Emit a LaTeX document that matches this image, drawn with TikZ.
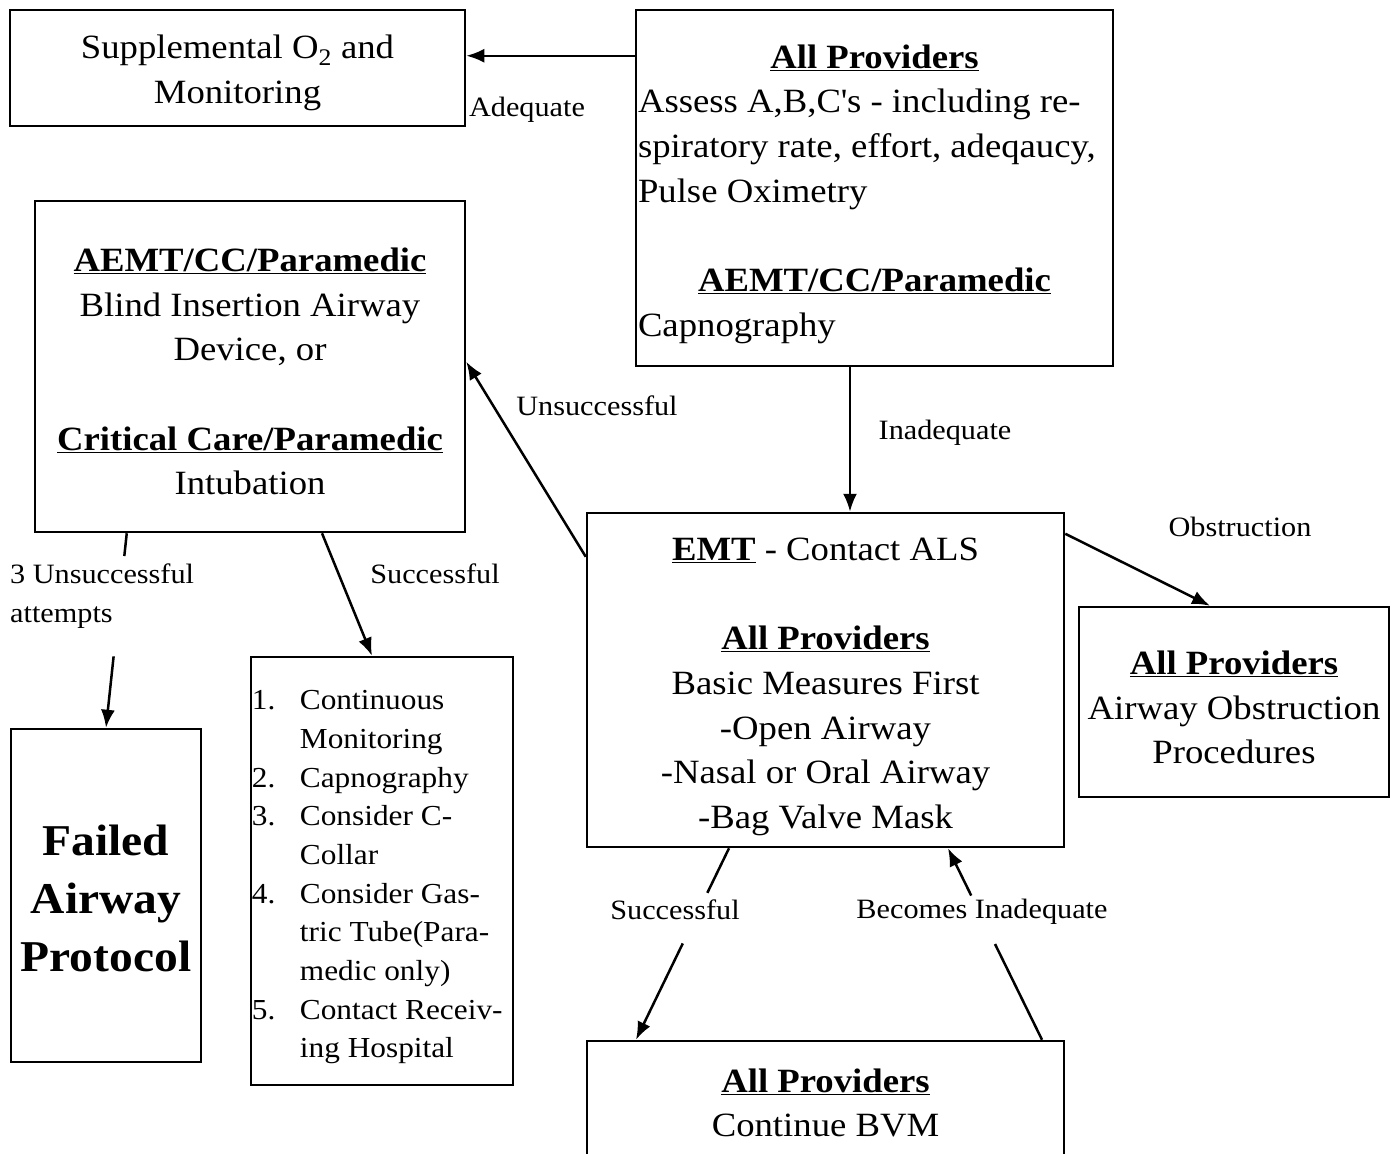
\documentclass[tikz,border=0pt]{standalone}
\usepackage{fontspec}
\setmainfont{Liberation Serif}[FakeStretch=1.08]
\usetikzlibrary{arrows.meta,calc}
\newcommand\mainfnt{\fontsize{34}{44.7}\selectfont}
\newcommand\lblfnt{\fontsize{28}{39}\selectfont}
\newcommand\listfnt{\fontsize{29}{38.7}\selectfont}
\newcommand\bigfnt{\fontsize{44}{58}\selectfont\bfseries}
\newcommand\hdr[1]{\textbf{\underline{#1}}}
\begin{document}
\begin{tikzpicture}[x=1pt,y=-1pt,
  box/.style={draw, line width=2.5pt, inner sep=0pt},
  txt/.style={inner sep=0pt, align=center, font=\mainfnt},
  lbl/.style={inner sep=0pt, font=\lblfnt},
  arr/.style={line width=2.5pt, -{Latex[length=18pt,width=14pt]}},
  ln/.style={line width=2.5pt}]
\useasboundingbox (0,0) rectangle (1395,1154);
\clip (0,0) rectangle (1395,1154);

% boxes
\node[box, minimum width=455pt, minimum height=116pt] (o2) at (237.5,68) {};
\node[txt] (o2t) at ([yshift=-5pt]o2.center) {Supplemental O\textsubscript{2} and\\Monitoring};

\node[box, minimum width=477pt, minimum height=356pt] (top) at (874.5,188) {};
\node[txt, text width=473pt, align=flush left] (topt) at ([yshift=-6pt]top.center)
  {\makebox[\linewidth]{\hdr{All Providers}}\\
   Assess A,B,C\textquotesingle s - including re-\\
   spiratory rate, effort, adeqaucy,\\
   Pulse Oximetry\\[44.7pt]
   \makebox[\linewidth]{\hdr{AEMT/CC/Paramedic}}\\
   Capnography};

\node[box, minimum width=430pt, minimum height=331pt] (aemt) at (250,366.5) {};
\node[txt] (aemtt) at ([yshift=-5pt]aemt.center)
  {\hdr{AEMT/CC/Paramedic}\\Blind Insertion Airway\\Device, or\\[44.7pt]
   \hdr{Critical Care/Paramedic}\\Intubation};

\node[box, minimum width=477pt, minimum height=334pt] (emt) at (825.5,680) {};
\node[txt] (emtt) at ([yshift=-7pt]emt.center)
  {\hdr{EMT} - Contact ALS\\[44.7pt]\hdr{All Providers}\\Basic Measures First\\
   -Open Airway\\-Nasal or Oral Airway\\-Bag Valve Mask};

\node[box, minimum width=310pt, minimum height=190pt] (obs) at (1234,702) {};
\node[txt] (obst) at ([yshift=-5.5pt]obs.center)
  {\hdr{All Providers}\\Airway Obstruction\\Procedures};

\node[box, minimum width=190pt, minimum height=333pt] (fail) at (106,895.5) {};
\node[txt, font=\bigfnt] (failt) at ([yshift=-3pt]fail.center) {Failed\\Airway\\Protocol};

\node[box, minimum width=262pt, minimum height=428pt] (list) at (382,871) {};
\node[inner sep=0pt, font=\listfnt, anchor=west] (listt) at ([xshift=2pt,yshift=-5pt]list.west)
  {\begin{tabular}{@{}p{48pt}@{}l@{}}
   1. & Continuous\\
      & Monitoring\\
   2. & Capnography\\
   3. & Consider C-\\
      & Collar\\
   4. & Consider Gas-\\
      & tric Tube(Para-\\
      & medic only)\\
   5. & Contact Receiv-\\
      & ing Hospital
   \end{tabular}};

\node[box, minimum width=477pt, minimum height=124pt] (bvm) at (825.5,1103) {};
\node[txt] (bvmt) at (bvm.center) {\hdr{All Providers}\\Continue BVM};

% connectors
\coordinate (a1) at ([yshift=-47pt]top.north west);
\draw[arr] (a1) -- (a1 -| o2.east);
\node[lbl] (ladq) at (527,110) {Adequate};

\coordinate (i1) at ([xshift=-24.5pt]top.south);
\draw[arr] (i1) -- (i1 |- emt.north);
\node[lbl] (linad) at (945,433) {Inadequate};

\draw[arr] ([yshift=-45pt]emt.north west) -- ([yshift=-162pt]aemt.north east);
\node[lbl] (lunsucc) at (597,406) {Unsuccessful};

\coordinate (s4) at ([xshift=93pt]aemt.south west);
\coordinate (g4a) at ($(s4)!0.117!(fail.north)$);
\coordinate (g4b) at ($(s4)!0.633!(fail.north)$);
\draw[ln] (s4) -- (g4a);
\draw[arr] (g4b) -- (fail.north);
\node[lbl, anchor=west, align=left] (l3) at (10,596) {3 Unsuccessful\\attempts};

\draw[arr] ([xshift=72pt]aemt.south) -- ([xshift=-10pt]list.north);
\node[lbl] (lsucc1) at (435,574) {Successful};

\draw[arr] ([yshift=-22pt]emt.north east) -- ([xshift=-24pt]obs.north);
\node[lbl] (lobs) at (1240,527) {Obstruction};

\coordinate (s7) at ([xshift=-96.5pt]emt.south);
\coordinate (e7) at ([xshift=-189.5pt]bvm.north);
\coordinate (g7a) at ($(s7)!0.233!(e7)$);
\coordinate (g7b) at ($(s7)!0.497!(e7)$);
\draw[ln] (s7) -- (g7a);
\draw[arr] (g7b) -- (e7);
\node[lbl] (lsucc2) at (675,910) {Successful};

\coordinate (s8) at ([xshift=216.5pt]bvm.north);
\coordinate (e8) at ([xshift=122.5pt]emt.south);
\coordinate (g8a) at ($(s8)!0.5!(e8)$);
\coordinate (g8b) at ($(s8)!0.753!(e8)$);
\draw[ln] (s8) -- (g8a);
\draw[arr] (g8b) -- (e8);
\node[lbl] (lbec) at (982,912) {Becomes Inadequate};
\end{tikzpicture}
\end{document}
